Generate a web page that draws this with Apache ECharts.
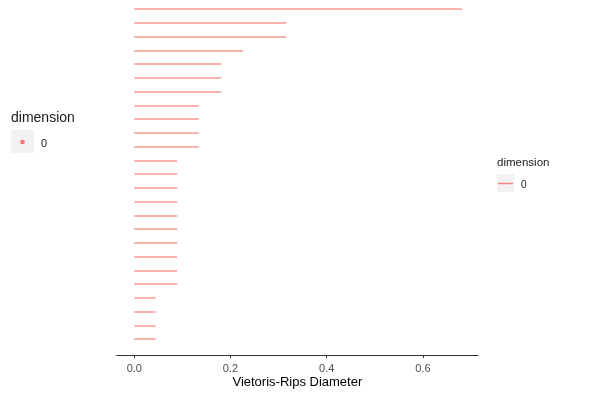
<!DOCTYPE html>
<html>
<head>
<meta charset="utf-8">
<script src="https://cdn.jsdelivr.net/npm/echarts@6/dist/echarts.min.js"></script>
<style>
  html, body { margin: 0; padding: 0; background: #fff; }
  #chart { width: 593px; height: 394px; }
</style>
</head>
<body>
<div id="chart"></div>
<script>
// persistence barcode, dimension 0 (birth always 0)
const births = [0, 0, 0, 0, 0, 0, 0, 0, 0, 0, 0, 0, 0, 0, 0, 0, 0, 0, 0, 0, 0, 0, 0, 0, 0];
const deaths = [
  0.681, 0.316, 0.316, 0.226, 0.181, 0.181, 0.181,
  0.134, 0.134, 0.134, 0.134,
  0.089, 0.089, 0.089, 0.089, 0.089, 0.089, 0.089, 0.089, 0.089, 0.089,
  0.044, 0.044, 0.044, 0.044
];
const xTicks = [0, 0.2, 0.4, 0.6];
const dimLabel = "0";

const red = "#F8766D";
const ch = echarts.init(document.getElementById("chart"));

ch.setOption({
  backgroundColor: "#fff",
  animation: false,
  // fixed panel, no auto shrink for labels
  grid: { left: 116.7, right: 115, top: 0, bottom: 39, outerBoundsMode: "none", containLabel: false },
  xAxis: {
    type: "value",
    min: -0.0366,
    max: 0.7146,
    name: "Vietoris-Rips Diameter",
    nameLocation: "middle",
    nameGap: 21,
    nameMoveOverlap: false,
    nameTextStyle: { color: "#000", fontSize: 13, fontFamily: "Liberation Sans" },
    axisLine: { show: true, lineStyle: { color: "#333", width: 1 } },
    axisTick: { show: true, length: 3, lineStyle: { color: "#333" }, customValues: xTicks },
    axisLabel: {
      color: "#4d4d4d", fontSize: 11, margin: 8, fontFamily: "Liberation Sans",
      customValues: xTicks,
      formatter: (v) => v.toFixed(1),
    },
    splitLine: { show: false },
  },
  yAxis: {
    type: "value",
    inverse: true,
    min: 0.345,
    max: 26.16,
    show: false,
    splitLine: { show: false },
  },
  series: [
    {
      type: "lines",
      coordinateSystem: "cartesian2d",
      data: deaths.map((d, i) => ({ coords: [[births[i], i + 1], [d, i + 1]] })),
      lineStyle: { color: red, width: 1.6, opacity: 0.75, curveness: 0 },
      silent: true,
    },
  ],
  graphic: [
    // left legend (points)
    { type: "text", left: 11, top: 111, style: { text: "dimension", fontSize: 14, fill: "#1a1a1a", fontFamily: "Liberation Sans" } },
    { type: "rect", shape: { x: 11, y: 130, width: 23, height: 23 }, style: { fill: "#f2f2f2" } },
    { type: "circle", shape: { cx: 22.5, cy: 142, r: 2.3 }, style: { fill: red } },
    { type: "text", left: 41, top: 138, style: { text: dimLabel, fontSize: 11, fill: "#1a1a1a", fontFamily: "Liberation Sans" } },
    // right legend (lines)
    { type: "text", left: 497, top: 157, style: { text: "dimension", fontSize: 11.5, fill: "#1a1a1a", fontFamily: "Liberation Sans" } },
    { type: "rect", shape: { x: 497, y: 174, width: 17, height: 18 }, style: { fill: "#f2f2f2" } },
    { type: "line", shape: { x1: 498, y1: 183.5, x2: 513, y2: 183.5 }, style: { stroke: red, lineWidth: 1.5, opacity: 0.85 } },
    { type: "text", left: 521, top: 180, style: { text: dimLabel, fontSize: 10, fill: "#1a1a1a", fontFamily: "Liberation Sans" } },
  ],
});
</script>
</body>
</html>
